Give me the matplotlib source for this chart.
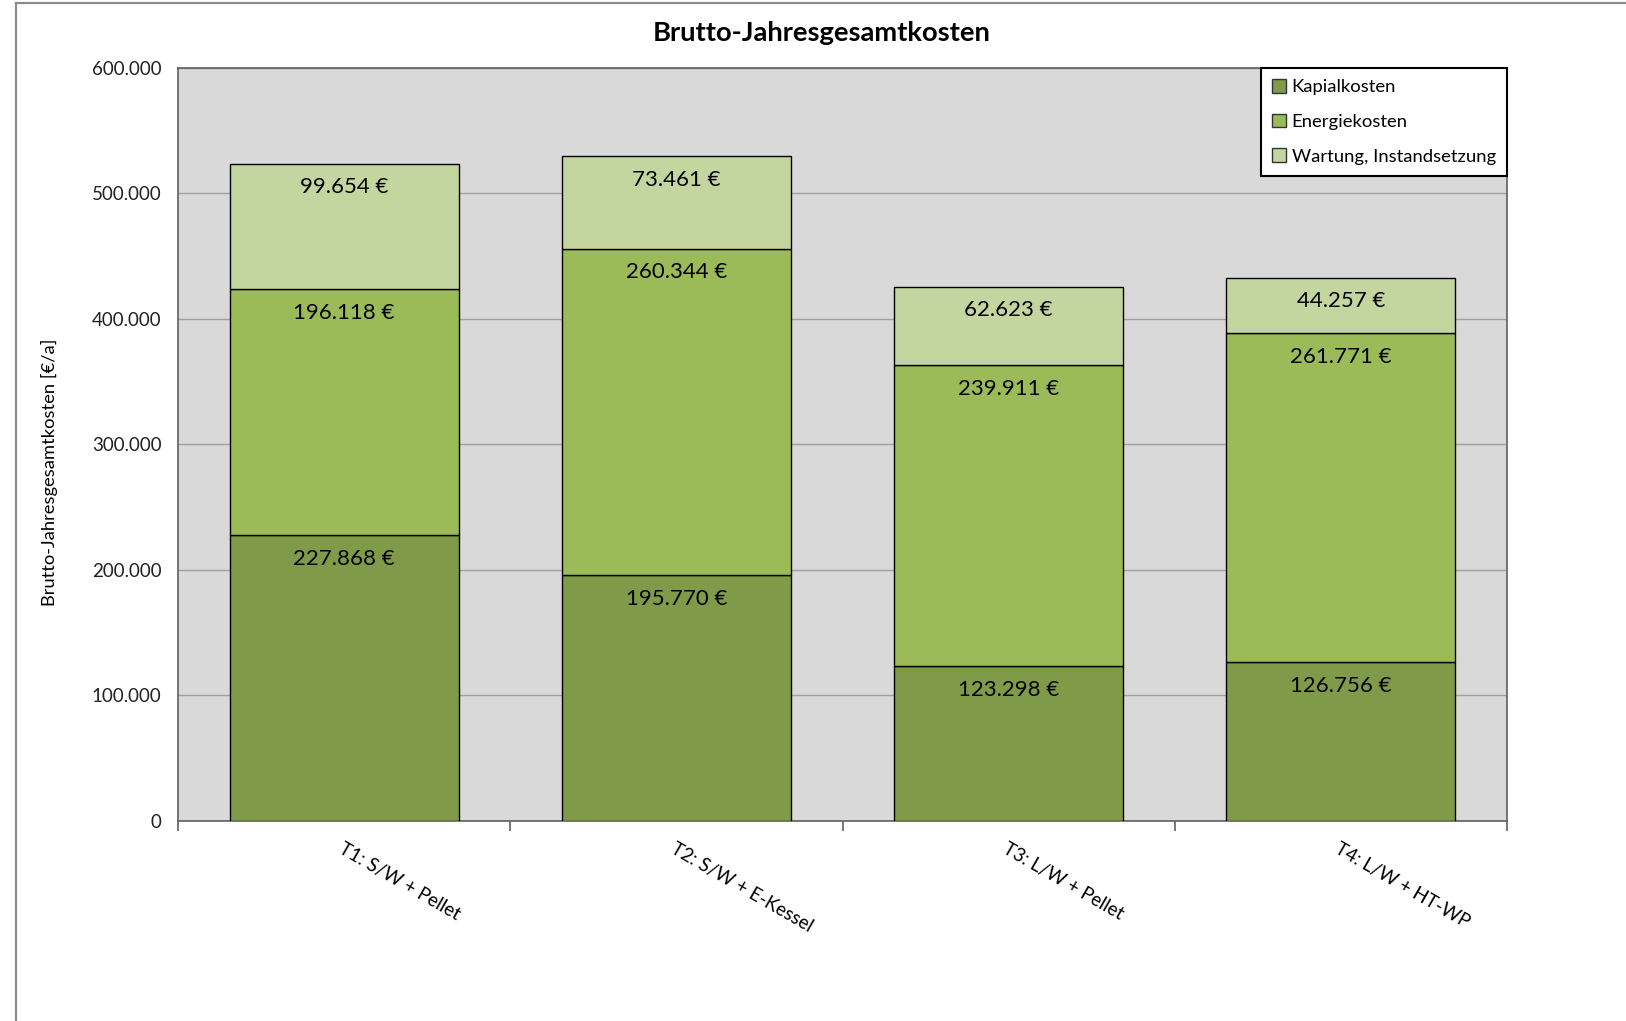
import matplotlib.pyplot as plt
import numpy as np
from matplotlib.lines import Line2D

plt.rcParams['font.family'] = ['Lato', 'DejaVu Sans']

categories = ['T1: S/W + Pellet', 'T2: S/W + E-Kessel', 'T3: L/W + Pellet', 'T4: L/W + HT-WP']
kapital = [227868, 195770, 123298, 126756]
energie = [196118, 260344, 239911, 261771]
wartung = [99654, 73461, 62623, 44257]
series_names = ['Kapialkosten', 'Energiekosten', 'Wartung, Instandsetzung']
colors = ['#7f9a48', '#9bbb59', '#c4d6a0']


def fmt(v):
    return f'{v:,}'.replace(',', '.')


fig = plt.figure(figsize=(16.26, 10.21), dpi=100)
ax = fig.add_axes([0.1095, 0.1959, 0.8173, 0.7375])
ax.set_facecolor('#d9d9d9')

x = np.arange(len(categories))
bottom = np.zeros(len(categories))
for vals, name, col in zip([kapital, energie, wartung], series_names, colors):
    ax.bar(x, vals, width=0.69, bottom=bottom, color=col, edgecolor='black',
           linewidth=1, label=name, zorder=3)
    tops = bottom + np.array(vals)
    for xi, top, v in zip(x, tops, vals):
        ax.annotate(f'{fmt(v)} €', (xi, top), xytext=(0, -17), textcoords='offset points',
                    ha='center', va='center', fontsize=16, color='black', zorder=4)
    bottom = tops

ax.set_xlim(-0.5, len(categories) - 0.5)
ax.set_ylim(0, 600000)
ax.set_yticks(np.arange(0, 600001, 100000))
ax.set_yticklabels([fmt(v) for v in range(0, 600001, 100000)], fontsize=13.5)
ax.tick_params(axis='y', length=0, pad=12, colors='#222222')
ax.grid(axis='y', color='#a0a0a0', linewidth=1, zorder=1)

ax.set_xticks(x)
ax.set_xticklabels(categories, rotation=-30, ha='left', va='top', rotation_mode='anchor', fontsize=13.5)
ax.tick_params(axis='x', which='major', length=0, pad=14)
ax.set_xticks(np.arange(-0.5, len(categories)), minor=True)
ax.tick_params(axis='x', which='minor', length=7, width=1.2, color='#606060')

for sp in ax.spines.values():
    sp.set_color('#606060')
    sp.set_linewidth(1.2)

ax.set_ylabel('Brutto-Jahresgesamtkosten [€/a]', fontsize=13.2)
ax.yaxis.set_label_coords(-0.090, 0.4636)

leg = ax.legend(loc='upper right', borderaxespad=0, fontsize=13.3, frameon=True,
                fancybox=False, handlelength=0.75, handleheight=0.75, handletextpad=0.3,
                labelspacing=1.0, borderpad=0.6)
leg.get_frame().set_edgecolor('black')
leg.get_frame().set_linewidth(1.5)
leg.get_frame().set_alpha(1)
for h in leg.legend_handles:
    h.set_edgecolor('#333333')

fig.text(0.5055, 0.968, 'Brutto-Jahresgesamtkosten', ha='center', va='center',
         fontsize=19.7, fontweight='bold')

# outer chart frame
fig.add_artist(Line2D([16 / 1626, 16 / 1626], [0, 1 - 3 / 1021], transform=fig.transFigure,
                      color='#8c8c8c', linewidth=1.6))
fig.add_artist(Line2D([16 / 1626, 1], [1 - 3 / 1021, 1 - 3 / 1021], transform=fig.transFigure,
                      color='#8c8c8c', linewidth=1.6))

fig.savefig('out.png', dpi=100)
